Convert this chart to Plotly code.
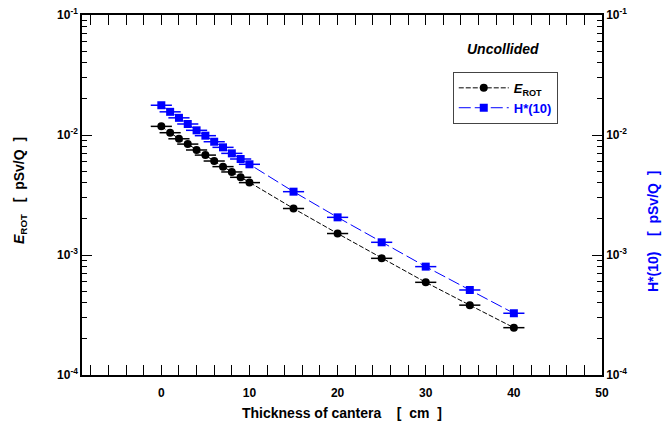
import plotly.graph_objects as go

thickness = [0, 1, 2, 3, 4, 5, 6, 7, 8, 9, 10, 15, 20, 25, 30, 35, 40]
e_rot = [1.18e-2, 1.045e-2, 9.3e-3, 8.4e-3, 7.5e-3, 6.8e-3, 6.07e-3, 5.45e-3, 4.92e-3, 4.44e-3, 4.01e-3,
         2.44e-3, 1.51e-3, 9.38e-4, 5.92e-4, 3.82e-4, 2.48e-4]
h10 = [1.77e-2, 1.56e-2, 1.39e-2, 1.235e-2, 1.094e-2, 9.87e-3, 8.79e-3, 7.89e-3, 7.03e-3, 6.31e-3, 5.70e-3,
       3.37e-3, 2.06e-3, 1.276e-3, 8.0e-4, 5.11e-4, 3.27e-4]
x_err = [1.2] * len(thickness)

x_ticks = [0, 10, 20, 30, 40, 50]
y_ticks = [1e-4, 1e-3, 1e-2, 1e-1]
y_ticktext = ["10<sup>-4</sup>", "10<sup>-3</sup>", "10<sup>-2</sup>", "10<sup>-1</sup>"]
y_minor = [m * 10.0 ** e for e in (-4, -3, -2) for m in range(2, 10)]

BLUE = "#0000ff"
FONT = "Liberation Sans, Arial, sans-serif"

fig = go.Figure()
fig.add_trace(go.Scatter(
    x=thickness, y=e_rot, mode="lines+markers",
    name="<b><i>E</i><sub>ROT</sub></b>",
    line=dict(color="black", width=1, dash="5px,2px"),
    marker=dict(symbol="circle", size=8, color="black"),
    error_x=dict(type="data", array=x_err, color="black", thickness=1.5, width=0),
))
fig.add_trace(go.Scatter(
    x=thickness, y=h10, mode="lines+markers", yaxis="y2",
    name='<b><span style="color:#0000ff">H*(10)</span></b>',
    line=dict(color=BLUE, width=1, dash="12px,4px"),
    marker=dict(symbol="square", size=8, color=BLUE),
    error_x=dict(type="data", array=x_err, color=BLUE, thickness=1.5, width=0),
))

axis_common = dict(showline=True, linecolor="black", linewidth=1.5, ticks="inside",
                   tickcolor="black", showgrid=False, zeroline=False, automargin=False,
                   tickfont=dict(family=FONT, size=12, color="black", weight="bold"))

fig.update_layout(
    width=672, height=427,
    margin=dict(l=82, r=70, t=15, b=52),
    paper_bgcolor="white", plot_bgcolor="white",
    font=dict(family=FONT, color="black"),
    showlegend=True,
    legend=dict(x=0.713, y=0.842, xanchor="left", yanchor="top",
                bordercolor="#444", borderwidth=1, bgcolor="white",
                font=dict(family=FONT, size=13, color="black"),
                tracegroupgap=0, itemwidth=50),
    xaxis=dict(range=[-9, 50], tickmode="array", tickvals=x_ticks,
               ticktext=[str(v) for v in x_ticks], ticklen=10, mirror="allticks",
               ticklabelstandoff=6,
               minor=dict(dtick=2, tick0=0, ticks="inside", ticklen=5, tickcolor="black"),
               **axis_common),
    yaxis=dict(type="log", range=[-4, -1], tickmode="array", tickvals=y_ticks,
               ticktext=y_ticktext, ticklen=10,
               minor=dict(tickmode="array", tickvals=y_minor, ticks="inside", ticklen=5, tickcolor="black"),
               **axis_common),
    yaxis2=dict(type="log", range=[-4, -1], overlaying="y", side="right",
                tickmode="array", tickvals=y_ticks, ticktext=y_ticktext, ticklen=10,
                minor=dict(tickmode="array", tickvals=y_minor, ticks="inside", ticklen=5, tickcolor="black"),
                **axis_common),
)

fig.add_annotation(text="<b>Thickness of cantera    [  cm  ]</b>", xref="paper", yref="paper",
                   x=0.5, y=-(413 - 375) / 360, showarrow=False,
                   xanchor="center", yanchor="middle",
                   font=dict(family=FONT, size=14, color="black"))
fig.add_annotation(text="<b><i>E</i><sub>ROT</sub>   [  pSv/Q  ]</b>", xref="paper", yref="paper",
                   x=(20 - 82) / 520, y=(375 - 191) / 360, textangle=-90, showarrow=False,
                   xanchor="center", yanchor="middle",
                   font=dict(family=FONT, size=14, color="black"))
fig.add_annotation(text="<b>H*(10)    [  pSv/Q  ]</b>", xref="paper", yref="paper",
                   x=(653 - 82) / 520, y=(375 - 232) / 360, textangle=-90, showarrow=False,
                   xanchor="center", yanchor="middle",
                   font=dict(family=FONT, size=14, color=BLUE))
fig.add_annotation(text="<b><i>Uncollided</i></b>", xref="paper", yref="paper",
                   x=(503 - 82) / 520, y=(375 - 49) / 360, showarrow=False,
                   xanchor="center", yanchor="middle",
                   font=dict(family=FONT, size=14, color="black"))

fig.write_html("out.html")
